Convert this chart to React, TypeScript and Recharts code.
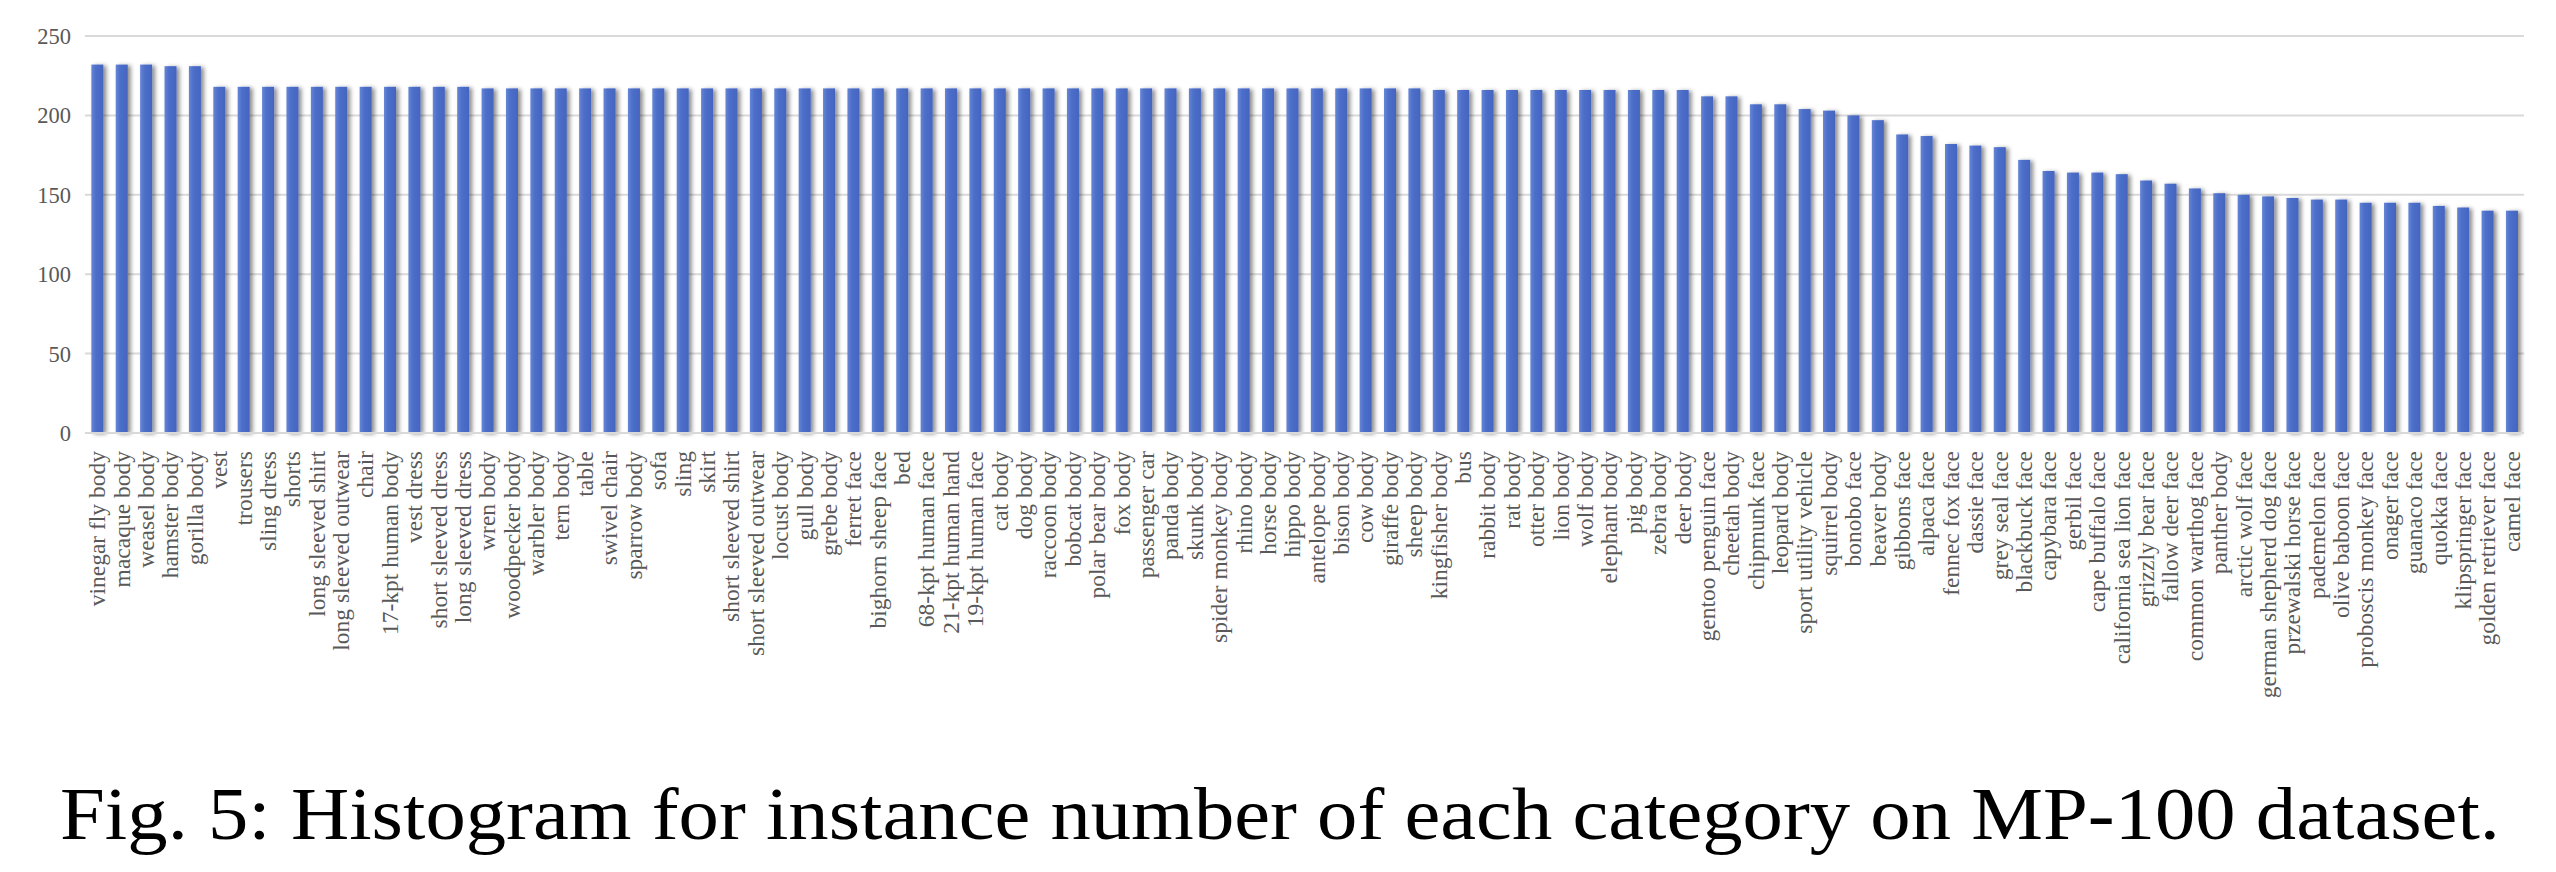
import { BarChart, Bar, XAxis, YAxis, CartesianGrid } from "recharts";

const categories = [
  "vinegar fly body", "macaque body", "weasel body", "hamster body", "gorilla body",
  "vest", "trousers", "sling dress", "shorts", "long sleeved shirt",
  "long sleeved outwear", "chair", "17-kpt human body", "vest dress", "short sleeved dress",
  "long sleeved dress", "wren body", "woodpecker body", "warbler body", "tern body",
  "table", "swivel chair", "sparrow body", "sofa", "sling",
  "skirt", "short sleeved shirt", "short sleeved outwear", "locust body", "gull body",
  "grebe body", "ferret face", "bighorn sheep face", "bed", "68-kpt human face",
  "21-kpt human hand", "19-kpt human face", "cat body", "dog body", "raccoon body",
  "bobcat body", "polar bear body", "fox body", "passenger car", "panda body",
  "skunk body", "spider monkey body", "rhino body", "horse body", "hippo body",
  "antelope body", "bison body", "cow body", "giraffe body", "sheep body",
  "kingfisher body", "bus", "rabbit body", "rat body", "otter body",
  "lion body", "wolf body", "elephant body", "pig body", "zebra body",
  "deer body", "gentoo penguin face", "cheetah body", "chipmunk face", "leopard body",
  "sport utility vehicle", "squirrel body", "bonobo face", "beaver body", "gibbons face",
  "alpaca face", "fennec fox face", "dassie face", "grey seal face", "blackbuck face",
  "capybara face", "gerbil face", "cape buffalo face", "california sea lion face", "grizzly bear face",
  "fallow deer face", "common warthog face", "panther body", "arctic wolf face", "german shepherd dog face",
  "przewalski horse face", "pademelon face", "olive baboon face", "proboscis monkey face", "onager face",
  "guanaco face", "quokka face", "klipspringer face", "golden retriever face", "camel face",
];

const counts = [
  232, 232, 232, 231, 231,
  218, 218, 218, 218, 218, 218, 218, 218, 218, 218, 218,
  217, 217, 217, 217, 217, 217, 217, 217, 217, 217,
  217, 217, 217, 217, 217, 217, 217, 217, 217, 217,
  217, 217, 217, 217, 217, 217, 217, 217, 217, 217,
  217, 217, 217, 217, 217, 217, 217, 217, 217,
  216, 216, 216, 216, 216, 216, 216, 216, 216, 216, 216,
  212, 212, 207, 207, 204, 203, 200, 197, 188, 187,
  182, 181, 180, 172, 165, 164, 164, 163, 159, 157,
  154, 151, 150, 149, 148, 147, 147, 145, 145, 145,
  143, 142, 140, 140,
];

const yTicks = [0, 50, 100, 150, 200, 250];

const caption = "Fig. 5: Histogram for instance number of each category on MP-100 dataset.";

const data = categories.map((name, i) => ({ name, count: counts[i] }));

const serif = '"Liberation Serif", "Times New Roman", serif';

const CategoryTick = (props: any) => {
  const { x, y, payload } = props;
  return (
    <g transform={`translate(${x},${y})`}>
      <text
        transform="rotate(-90)"
        textAnchor="end"
        dy="0.34em"
        fontSize={23.5}
        fontFamily={serif}
        fill="#595959"
      >
        {payload.value}
      </text>
    </g>
  );
};

// bars get the soft office-style drop shadow
const ShadowBar = (props: any) => {
  const { x, y, width, height } = props;
  if (!height || height <= 0) return null;
  return (
    <rect
      x={x}
      y={y}
      width={width}
      height={height}
      fill="url(#barFill)"
      filter="url(#barShadow)"
    />
  );
};

const App = () => {
  return (
    <div
      style={{
        position: "absolute",
        left: 0,
        top: 0,
        width: 2556,
        height: 872,
        background: "#ffffff",
      }}
    >
      <BarChart
        width={2556}
        height={740}
        data={data}
        margin={{ top: 36, right: 32, bottom: 0, left: 0 }}
        barCategoryGap="26%"
      >
        <defs>
          <linearGradient id="barFill" x1="0" y1="0" x2="1" y2="0">
            <stop offset="0%" stopColor="#6686d6" />
            <stop offset="35%" stopColor="#4d6fc9" />
            <stop offset="100%" stopColor="#4364c0" />
          </linearGradient>
          <filter id="barShadow" x="-60%" y="-5%" width="220%" height="110%">
            <feDropShadow dx="3" dy="1" stdDeviation="2.2" floodColor="#000000" floodOpacity="0.45" />
          </filter>
        </defs>
        <CartesianGrid vertical={false} stroke="#d9d9d9" strokeWidth={2} />
        <XAxis
          dataKey="name"
          interval={0}
          height={307}
          tickLine={false}
          tickSize={0}
          tickMargin={18}
          axisLine={{ stroke: "#d9d9d9", strokeWidth: 2 }}
          tick={<CategoryTick />}
        />
        <YAxis
          domain={[0, 250]}
          ticks={yTicks}
          width={85}
          axisLine={false}
          tickLine={false}
          tickSize={0}
          tickMargin={14}
          tick={{ fontSize: 22.5, fontFamily: serif, fill: "#595959" }}
        />
        <Bar dataKey="count" shape={<ShadowBar />} isAnimationActive={false} />
      </BarChart>
      <svg
        width={2556}
        height={132}
        style={{ position: "absolute", left: 0, top: 740 }}
      >
        <text
          x={60}
          y={99}
          fontSize={74}
          fontFamily={serif}
          fill="#000000"
          textLength={2440}
          lengthAdjust="spacingAndGlyphs"
        >
          {caption}
        </text>
      </svg>
    </div>
  );
};

export default App;
